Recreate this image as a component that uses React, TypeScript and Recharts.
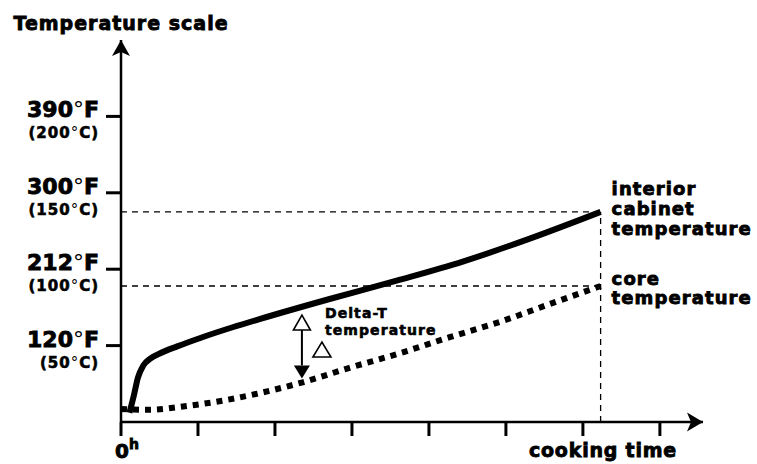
import React from 'react';
import { ComposedChart, Line, XAxis, YAxis, ReferenceLine, ReferenceDot, Label } from 'recharts';

// x: cooking time in tick units, y: temperature in scale-step units
const interiorTime = [0.11, 0.17, 0.22, 0.29, 0.38, 0.51, 0.73, 1.03, 1.45, 1.81, 2.71, 3.58, 4.44, 5.31, 6.23];
const interiorTemp = [0.12, 0.36, 0.58, 0.74, 0.83, 0.9, 0.99, 1.1, 1.24, 1.35, 1.61, 1.85, 2.1, 2.4, 2.75];
const coreTime = [0.0, 0.34, 0.86, 1.38, 1.81, 2.36, 2.97, 3.62, 4.27, 4.92, 5.53, 6.23];
const coreTemp = [0.17, 0.16, 0.21, 0.29, 0.38, 0.52, 0.71, 0.9, 1.11, 1.31, 1.53, 1.78];

const yTickLevels = [1, 2, 3, 4];
const yTickF = ['120°F', '212°F', '300°F', '390°F'];
const yTickC = ['(50°C)', '(100°C)', '(150°C)', '(200°C)'];
const xTicks = [0, 1, 2, 3, 4, 5, 6, 7];
const xTickLabels = ['0', '', '', '', '', '', '', ''];
const xMax = 7.56;
const yMax = 5;

const deltaTime = 2.35;
const deltaTop = 1.4;
const deltaBottom = 0.57;

const interiorLabel = ['interior', 'cabinet', 'temperature'];
const coreLabel = ['core', 'temperature'];

const FONT = '"DejaVu Sans", sans-serif';
const BOLD = { fontFamily: FONT, fontWeight: 700, fill: '#000', stroke: '#000', strokeWidth: 0.85 } as const;
const BOLD_S = { ...BOLD, strokeWidth: 0.6 } as const;

const interiorData = interiorTime.map((t, i) => ({ t, v: interiorTemp[i] }));
const coreData = coreTime.map((t, i) => ({ t, v: coreTemp[i] }));
const endTime = interiorTime[interiorTime.length - 1];
const interiorEnd = interiorTemp[interiorTemp.length - 1];
const coreEnd = coreTemp[coreTemp.length - 1];

const withDeg = (s: string) => {
  const parts = s.split('°');
  return parts.map((p, i) => (
    <React.Fragment key={i}>
      {i > 0 && <tspan fontWeight={400} strokeWidth={0}>°</tspan>}
      {p}
    </React.Fragment>
  ));
};

const YTick = (props: any) => {
  const { x, y, payload } = props;
  const idx = yTickLevels.indexOf(payload.value);
  if (idx < 0) return <g />;
  const rx = x - 5;
  return (
    <g>
      <text x={rx} y={y + 1} textAnchor="end" fontSize={22} {...BOLD}>
        {withDeg(yTickF[idx])}
      </text>
      <text x={rx} y={y + 22} textAnchor="end" fontSize={15} letterSpacing={1} {...BOLD_S}>
        {withDeg(yTickC[idx])}
      </text>
    </g>
  );
};

const XTick = (props: any) => {
  const { x, y, payload } = props;
  const idx = xTicks.indexOf(payload.value);
  const lbl = idx >= 0 ? xTickLabels[idx] : '';
  if (!lbl) return <g />;
  return (
    <text x={x - 6} y={y + 20} textAnchor="start" fontSize={20} {...BOLD}>
      {lbl}
      <tspan fontSize={14} dy={-9}>h</tspan>
    </text>
  );
};

const RightArrow = (props: any) => {
  const { cx, cy } = props;
  return <polygon points={`${cx},${cy} ${cx - 16},${cy - 9.5} ${cx - 12},${cy} ${cx - 16},${cy + 9.5}`} fill="#000" />;
};

const UpArrow = (props: any) => {
  const { cx, cy } = props;
  return <polygon points={`${cx},${cy} ${cx - 9},${cy + 16} ${cx},${cy + 12} ${cx + 9},${cy + 16}`} fill="#000" />;
};

const makeEndLabel = (lines: string[], offsets: number[]) => (props: any) => {
  const { cx, cy } = props;
  return (
    <g>
      {lines.map((l, i) => (
        <text key={i} x={cx + 11} y={cy + offsets[i]} fontSize={18} letterSpacing={1.1} {...BOLD}>
          {l}
        </text>
      ))}
    </g>
  );
};

const DeltaArrow = (props: any) => {
  const { x1, y1, y2 } = props;
  const x = x1;
  return (
    <g>
      <polygon points={`${x},${y1} ${x - 8.5},${y1 + 15} ${x + 8.5},${y1 + 15}`} fill="#fff" stroke="#000" strokeWidth={1.6} />
      <line x1={x} y1={y1 + 15} x2={x} y2={y2 - 13} stroke="#000" strokeWidth={2} />
      <polygon points={`${x - 8},${y2 - 13} ${x + 8},${y2 - 13} ${x},${y2}`} fill="#000" />
      <polygon points={`${x + 20},${y1 + 27} ${x + 11},${y1 + 42} ${x + 29},${y1 + 42}`} fill="#fff" stroke="#000" strokeWidth={1.6} />
      <text x={x + 23} y={y1 + 3} fontSize={14} letterSpacing={1.1} {...BOLD_S}>Delta-T</text>
      <text x={x + 23} y={y1 + 20} fontSize={14} letterSpacing={1.1} {...BOLD_S}>temperature</text>
    </g>
  );
};

export default function App() {
  return (
    <div style={{ position: 'absolute', left: 0, top: 0, background: '#fff' }}>
      <ComposedChart width={757} height={464} margin={{ top: 40, right: 54, bottom: 0, left: 0 }}>
        <XAxis
          type="number"
          dataKey="t"
          domain={[0, xMax]}
          ticks={xTicks}
          interval={0}
          allowDataOverflow
          height={42}
          tickSize={14}
          tickLine={{ stroke: '#000', strokeWidth: 3 }}
          axisLine={{ stroke: '#000', strokeWidth: 2.5 }}
          tick={<XTick />}
        >
          <Label
            content={(p: any) => (
              <text x={p.viewBox.x + p.viewBox.width - 100} y={p.viewBox.y + 35} textAnchor="middle" fontSize={19} letterSpacing={0.8} {...BOLD}>
                cooking time
              </text>
            )}
          />
        </XAxis>
        <YAxis
          type="number"
          dataKey="v"
          domain={[0, yMax]}
          ticks={yTickLevels}
          interval={0}
          allowDataOverflow
          width={121}
          tickSize={15}
          tickLine={{ stroke: '#000', strokeWidth: 3 }}
          axisLine={{ stroke: '#000', strokeWidth: 2.5 }}
          tick={<YTick />}
        >
          <Label
            content={(p: any) => (
              <text x={p.viewBox.x + p.viewBox.width} y={p.viewBox.y - 10} textAnchor="middle" fontSize={19} letterSpacing={1} {...BOLD}>
                Temperature scale
              </text>
            )}
          />
        </YAxis>
        <ReferenceLine segment={[{ x: 0, y: interiorEnd }, { x: endTime, y: interiorEnd }]} stroke="#000" strokeWidth={1.3} strokeDasharray="6 5" />
        <ReferenceLine segment={[{ x: 0, y: coreEnd }, { x: endTime, y: coreEnd }]} stroke="#000" strokeWidth={1.3} strokeDasharray="6 5" />
        <ReferenceLine segment={[{ x: endTime, y: 0 }, { x: endTime, y: interiorEnd }]} stroke="#000" strokeWidth={1.3} strokeDasharray="6 5" />
        <Line data={coreData} dataKey="v" type="monotone" stroke="#000" strokeWidth={6} strokeDasharray="6 6" dot={false} isAnimationActive={false} />
        <Line data={interiorData} dataKey="v" type="monotone" stroke="#000" strokeWidth={6} dot={false} isAnimationActive={false} />
        <ReferenceLine segment={[{ x: deltaTime, y: deltaTop }, { x: deltaTime, y: deltaBottom }]} shape={DeltaArrow} />
        <ReferenceDot x={endTime} y={interiorEnd} r={0} shape={makeEndLabel(interiorLabel, [-17, 3, 23])} />
        <ReferenceDot x={endTime} y={coreEnd} r={0} shape={makeEndLabel(coreLabel, [-1, 18])} />
        <ReferenceDot x={xMax} y={0} r={0} shape={RightArrow} />
        <ReferenceDot x={0} y={yMax} r={0} shape={UpArrow} />
      </ComposedChart>
    </div>
  );
}
